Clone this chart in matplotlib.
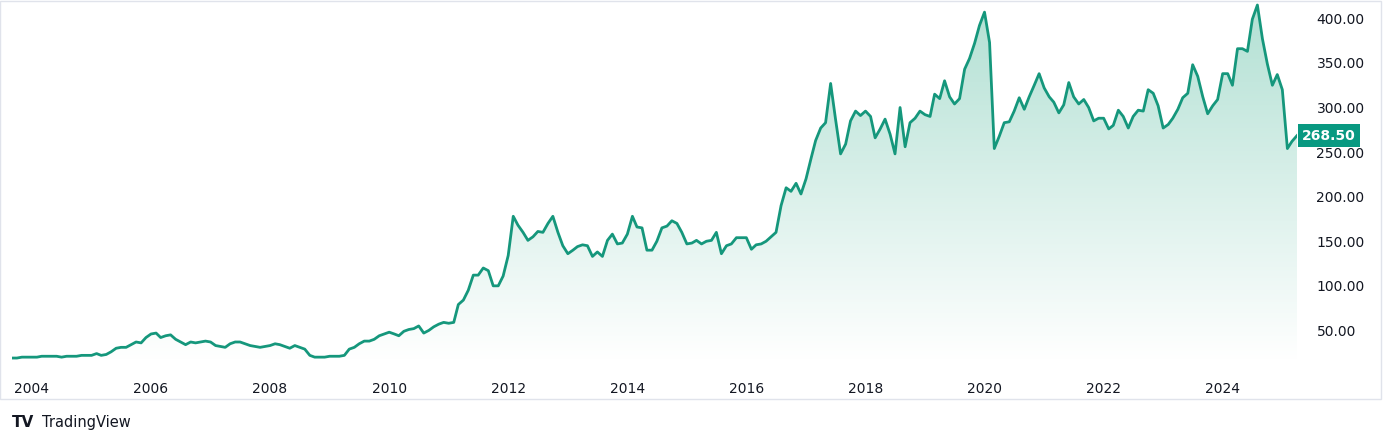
import matplotlib
matplotlib.use("Agg")
import matplotlib.pyplot as plt
import numpy as np
import pandas as pd
from matplotlib.patches import Polygon, Rectangle

start = "2003-09-01"
values = [19,19,20,20,
 20,20,21,21,21,21,20,21,21,21,22,22,
 22,24,22,23,26,30,31,31,34,37,36,42,
 46,47,42,44,45,40,37,34,37,36,37,38,
 37,33,32,31,35,37,37,35,33,32,31,32,
 33,35,34,32,30,33,31,29,22,20,20,20,
 21,21,21,22,29,31,35,38,38,40,44,46,
 48,46,44,49,51,52,55,47,50,54,57,59,
 58,59,79,84,95,112,112,120,117,100,100,111,
 134,178,168,160,151,155,161,160,170,178,160,145,
 136,140,144,146,145,133,138,133,151,158,147,148,
 158,178,166,165,140,140,150,165,167,173,170,160,
 147,148,151,147,150,151,160,136,145,147,154,154,
 154,141,146,147,150,155,160,190,210,206,215,203,
 220,243,263,277,283,327,287,248,259,285,296,291,
 296,290,266,276,287,270,248,300,256,283,288,296,
 292,290,315,310,330,312,304,310,343,355,372,392,
 407,373,254,268,283,284,296,311,298,312,325,338,
 322,312,306,294,303,328,312,304,309,300,285,288,
 288,276,280,297,290,277,290,297,296,320,316,302,
 277,281,288,298,311,316,348,335,312,293,302,309,
 338,338,325,366,366,363,399,415,377,349,325,337,
 320,254,262,268.5]
dates = pd.date_range(start, periods=len(values), freq="MS")
yticks = [50,100,150,200,250,300,350,400]
xtick_years = [2004,2006,2008,2010,2012,2014,2016,2018,2020,2022,2024]

W,H = 1394,444
fig = plt.figure(figsize=(W/100,H/100), dpi=100)
ax = fig.add_axes([12/W, 1-360/H, (1297-12)/W, 359/H])
col = "#15977c"
x = matplotlib.dates.date2num(dates)
v = np.array(values)
ymin, ymax = 16.8, 419.5
ax.set_xlim(x[0], x[-1]); ax.set_ylim(ymin, ymax)
grad = np.linspace(0,1,256).reshape(-1,1)
from matplotlib.colors import LinearSegmentedColormap
cmap = LinearSegmentedColormap.from_list("g", [(1,1,1,1),(0.70,0.88,0.83,1)])
im = ax.imshow(grad, cmap=cmap, aspect="auto", origin="lower",
               extent=[x[0],x[-1],ymin,v.max()], zorder=1)
poly = Polygon(np.column_stack([np.r_[x[0],x,x[-1]], np.r_[ymin,v,ymin]]),
               closed=True, transform=ax.transData, facecolor="none", edgecolor="none")
ax.add_patch(poly); im.set_clip_path(poly)
ax.plot(x, v, color=col, lw=2, zorder=3)
for s in ax.spines.values(): s.set_visible(False)
ax.yaxis.tick_right()
ax.set_yticks(yticks)
ax.set_yticklabels([f"{t:.2f}" for t in yticks])
ax.set_xticks(matplotlib.dates.date2num([pd.Timestamp(f"{y}-01-01") for y in xtick_years]))
ax.set_xticklabels([str(y) for y in xtick_years])
ax.tick_params(length=0, labelsize=10, colors="#131722")
ax.tick_params(axis="y", pad=14)
ax.tick_params(axis="x", pad=16)
for l in ax.get_xticklabels()+ax.get_yticklabels(): l.set_fontweight("medium")
ax.text(1.004, (values[-1]-ymin)/(ymax-ymin), f"{values[-1]:.2f}", transform=ax.transAxes,
        ha="left", va="center", color="white", fontsize=10, fontweight="bold",
        bbox=dict(boxstyle="square,pad=0.3", fc="#089981", ec="none"))
fig.patches.append(Rectangle((0,1-399/H), 1381/W, 398/H, transform=fig.transFigure,
                             fill=False, ec="#e0e3eb", lw=1))
fig.text(12/W, 1-422/H, "TV", fontsize=11, fontweight="bold", color="#131722", va="center")
fig.text(42/W, 1-422/H, "TradingView", fontsize=10.5, color="#131722", va="center")
fig.savefig("out.png", dpi=100)
